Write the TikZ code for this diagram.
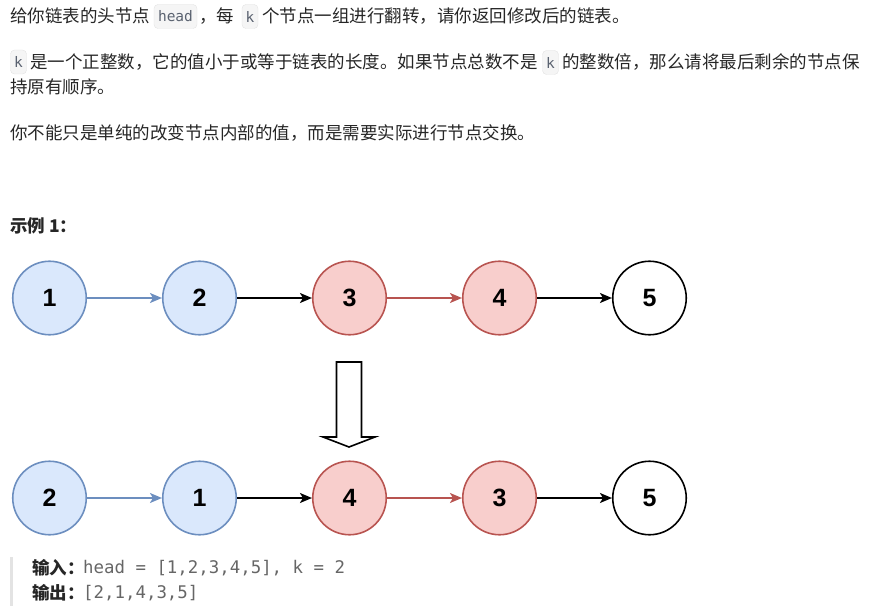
\documentclass[tikz,border=0pt]{standalone}
\usepackage{fontspec}
\setmainfont{Noto Sans CJK SC}
\setmonofont{DejaVu Sans Mono}
\newfontfamily\numfont{Liberation Sans}
\usepackage{xcolor}
\usetikzlibrary{arrows.meta}

\definecolor{ink}{HTML}{262626}
\definecolor{codeink}{HTML}{5A6270}
\definecolor{valink}{HTML}{666666}
\definecolor{chipfill}{HTML}{F5F5F5}
\definecolor{chipline}{HTML}{E3E3E3}
\definecolor{blueline}{HTML}{6C8EBF}
\definecolor{bluefill}{HTML}{DAE8FC}
\definecolor{redline}{HTML}{B85450}
\definecolor{redfill}{HTML}{F8CECC}

\begin{document}
\begin{tikzpicture}[
  x=1pt, y=-1pt,
  txt/.style={anchor=west, inner sep=0pt, text=ink,
    font=\fontsize{17.5}{24}\selectfont},
  head/.style={txt, font=\fontsize{17.5}{24}\selectfont\bfseries},
  chip/.style={draw=chipline, fill=chipfill, rounded corners=4pt,
    inner sep=0pt, minimum height=24pt, text=codeink,
    font=\fontsize{14.5}{16}\ttfamily},
  val/.style={anchor=west, inner sep=0pt, text=valink,
    font=\fontsize{17.4}{20}\ttfamily},
  item/.style={circle, draw=black, line width=1.6pt, minimum size=73.5pt,
    inner sep=0pt, fill=white, font=\fontsize{25}{25}\numfont\bfseries},
  blueitem/.style={item, draw=blueline, fill=bluefill},
  reditem/.style={item, draw=redline, fill=redfill},
  link/.style={line width=1.6pt, -{Stealth[length=12pt, width=10pt, inset=3pt]}},
  turn/.style={draw=black, line width=1.6pt, fill=white, line join=miter}
]
\useasboundingbox (0,0) rectangle (871,615);

% problem text
\node[txt] (p1a) at (10,16) {给你链表的头节点};
\node[chip, minimum width=43pt] (c1) at (175.5,16.5) {head};
\node[txt] (p1b) at (199,16) {，每};
\node[chip, minimum width=16pt] (c2) at (250,16.5) {k};
\node[txt] (p1c) at (262,16) {个节点一组进行翻转，请你返回修改后的链表。};

\node[chip, minimum width=16pt] (c3) at (18.5,62) {k};
\node[txt] (p2a) at (30,62.5) {是一个正整数，它的值小于或等于链表的长度。如果节点总数不是};
\node[chip, minimum width=16pt] (c4) at (550.5,62.5) {k};
\node[txt] (p2b) at (562,62.5) {的整数倍，那么请将最后剩余的节点保};
\node[txt] (p3) at (10,87) {持原有顺序。};

\node[txt] (p4) at (10,133.5) {你不能只是单纯的改变节点内部的值，而是需要实际进行节点交换。};

\node[head] (ex) at (10,226) {示例 1：};

% list before
\node[blueitem] (t1) at (49.5,298) {1};
\node[blueitem] (t2) at (199.5,298) {2};
\node[reditem] (t3) at (349.5,298) {3};
\node[reditem] (t4) at (499.5,298) {4};
\node[item] (t5) at (649.5,298) {5};
\draw[link, draw=blueline] (t1) -- (t2);
\draw[link] (t2) -- (t3);
\draw[link, draw=redline] (t3) -- (t4);
\draw[link] (t4) -- (t5);

% hollow arrow
\draw[turn] (336.5,362) -- (361.5,362) -- (361.5,437) -- (375,437)
  -- (349,447) -- (323,437) -- (336.5,437) -- cycle;

% list after
\node[blueitem] (b2) at (49.5,498) {2};
\node[blueitem] (b1) at (199.5,498) {1};
\node[reditem] (b4) at (349.5,498) {4};
\node[reditem] (b3) at (499.5,498) {3};
\node[item] (b5) at (649.5,498) {5};
\draw[link, draw=blueline] (b2) -- (b1);
\draw[link] (b1) -- (b4);
\draw[link, draw=redline] (b4) -- (b3);
\draw[link] (b3) -- (b5);

% input / output
\fill[chipline] (10,557) rectangle (12.5,606);
\node[head] (inl) at (32,568) {输入：};
\node[val] (inv) at (83,568) {head = [1,2,3,4,5], k = 2};
\node[head] (outl) at (32,593) {输出：};
\node[val] (outv) at (83,593) {[2,1,4,3,5]};
\end{tikzpicture}
\end{document}
